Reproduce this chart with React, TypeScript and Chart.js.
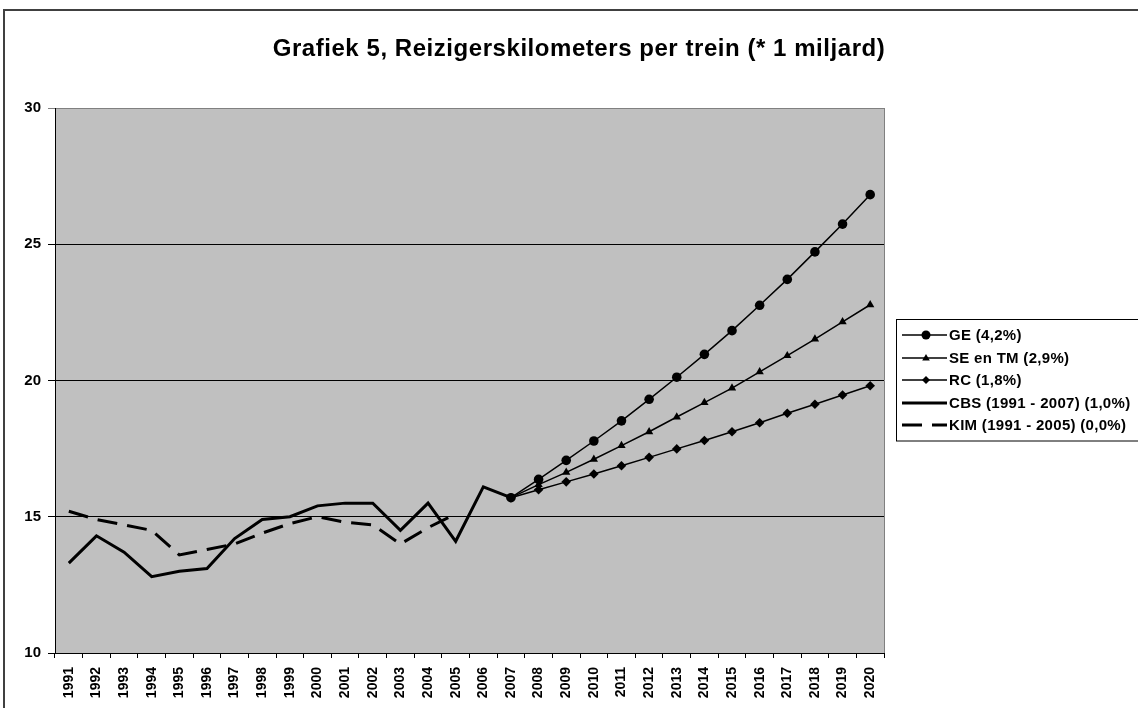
import React, { useEffect, useRef } from 'react';
import { Chart, registerables } from 'chart.js';

Chart.register(...registerables);

const titleText = 'Grafiek 5, Reizigerskilometers per trein (* 1 miljard)';

const years = [
  '1991', '1992', '1993', '1994', '1995', '1996', '1997', '1998', '1999', '2000',
  '2001', '2002', '2003', '2004', '2005', '2006', '2007', '2008', '2009', '2010',
  '2011', '2012', '2013', '2014', '2015', '2016', '2017', '2018', '2019', '2020',
];

const yTicks = [10, 15, 20, 25, 30];

const geLabel = 'GE (4,2%)';
const geValues = [
  null, null, null, null, null, null, null, null, null, null, null, null, null, null, null, null,
  15.7, 16.37, 17.07, 17.78, 18.52, 19.31, 20.12, 20.96, 21.83, 22.76, 23.71, 24.72, 25.74, 26.82,
];

const seLabel = 'SE en TM (2,9%)';
const seValues = [
  null, null, null, null, null, null, null, null, null, null, null, null, null, null, null, null,
  15.7, 16.18, 16.63, 17.11, 17.61, 18.12, 18.66, 19.19, 19.72, 20.32, 20.91, 21.52, 22.15, 22.78,
];

const rcLabel = 'RC (1,8%)';
const rcValues = [
  null, null, null, null, null, null, null, null, null, null, null, null, null, null, null, null,
  15.7, 15.99, 16.28, 16.57, 16.87, 17.18, 17.49, 17.8, 18.12, 18.45, 18.8, 19.13, 19.47, 19.81,
];

const cbsLabel = 'CBS (1991 - 2007) (1,0%)';
const cbsValues = [
  13.3, 14.3, 13.7, 12.8, 13.0, 13.1, 14.2, 14.9, 15.0, 15.4, 15.5, 15.5, 14.5, 15.5, 14.1, 16.1, 15.7,
];

const kimLabel = 'KIM (1991 - 2005) (0,0%)';
const kimValues = [
  15.2, 14.9, 14.7, 14.5, 13.6, 13.8, 14.0, 14.4, 14.75, 15.0, 14.8, 14.7, 14.0, 14.6, 15.1,
];

const FONT = 'Arial, "Liberation Sans", sans-serif';

function drawMarker(ctx: CanvasRenderingContext2D, style: string, x: number, y: number, r: number) {
  ctx.save();
  ctx.fillStyle = '#000';
  ctx.beginPath();
  if (style === 'circle') {
    ctx.arc(x, y, r, 0, Math.PI * 2);
  } else if (style === 'triangle') {
    ctx.moveTo(x, y - r);
    ctx.lineTo(x + r * 0.95, y + r * 0.6);
    ctx.lineTo(x - r * 0.95, y + r * 0.6);
    ctx.closePath();
  } else if (style === 'rectRot') {
    ctx.moveTo(x, y - r);
    ctx.lineTo(x + r, y);
    ctx.lineTo(x, y + r);
    ctx.lineTo(x - r, y);
    ctx.closePath();
  }
  ctx.fill();
  ctx.restore();
}

const framePlugin = {
  id: 'framePlugin',
  beforeDraw(chart: any) {
    const { ctx, chartArea } = chart;
    ctx.save();
    ctx.fillStyle = '#fff';
    ctx.fillRect(0, 0, chart.width, chart.height);
    ctx.strokeStyle = '#404040';
    ctx.lineWidth = 2;
    ctx.strokeRect(4, 10, chart.width + 20, chart.height + 20);
    ctx.fillStyle = '#C0C0C0';
    ctx.fillRect(chartArea.left, chartArea.top, chartArea.right - chartArea.left, chartArea.bottom - chartArea.top);
    ctx.restore();
  },
  afterDatasetsDraw(chart: any) {
    const { ctx, chartArea } = chart;
    ctx.save();
    ctx.strokeStyle = '#808080';
    ctx.lineWidth = 1;
    ctx.beginPath();
    ctx.moveTo(Math.round(chartArea.right) + 0.5, chartArea.top);
    ctx.lineTo(Math.round(chartArea.right) + 0.5, chartArea.bottom);
    ctx.stroke();
    ctx.restore();
  },
  afterDraw(chart: any) {
    const { ctx } = chart;
    // title
    ctx.save();
    ctx.fillStyle = '#000';
    ctx.font = 'bold 24px ' + FONT;
    (ctx as any).letterSpacing = '0.55px';
    ctx.textAlign = 'center';
    ctx.textBaseline = 'alphabetic';
    ctx.fillText(titleText, 579, 56);
    ctx.restore();

    // legend
    const left = 896;
    const top = 319;
    const rowH = 22.5;
    const n = chart.data.datasets.length;
    ctx.save();
    ctx.fillStyle = '#fff';
    ctx.fillRect(left, top, 260, n * rowH + 9);
    ctx.strokeStyle = '#000';
    ctx.lineWidth = 1;
    ctx.strokeRect(left + 0.5, top + 0.5, 260, n * rowH + 9);
    chart.data.datasets.forEach((ds: any, i: number) => {
      const y = Math.round(top + 16 + i * rowH);
      ctx.save();
      ctx.strokeStyle = '#000';
      ctx.lineWidth = ds.borderWidth;
      ctx.setLineDash(ds.borderDash || []);
      ctx.beginPath();
      ctx.moveTo(left + 6, y);
      ctx.lineTo(left + 51, y);
      ctx.stroke();
      ctx.restore();
      if (ds.pointRadius > 0) {
        drawMarker(ctx, ds.pointStyle, left + 30, y, ds.pointStyle === 'circle' ? 4.5 : 4);
      }
      ctx.save();
      ctx.fillStyle = '#000';
      ctx.font = 'bold 15px ' + FONT;
      (ctx as any).letterSpacing = '0.3px';
      ctx.textBaseline = 'middle';
      ctx.textAlign = 'left';
      ctx.fillText(ds.label, left + 53, y + 1);
      ctx.restore();
    });
    ctx.restore();
  },
};

export default function App() {
  const canvasRef = useRef<HTMLCanvasElement | null>(null);

  useEffect(() => {
    const canvas = canvasRef.current;
    if (!canvas) return;
    const chart = new Chart(canvas, {
      type: 'line',
      data: {
        labels: years,
        datasets: [
          {
            label: geLabel,
            data: geValues,
            borderColor: '#000',
            backgroundColor: '#000',
            borderWidth: 1.5,
            pointStyle: 'circle',
            pointRadius: 4.8,
            pointBorderWidth: 0,
            fill: false,
            tension: 0,
          },
          {
            label: seLabel,
            data: seValues,
            borderColor: '#000',
            backgroundColor: '#000',
            borderWidth: 1.5,
            pointStyle: 'triangle',
            pointRadius: 4.8,
            pointBorderWidth: 0,
            fill: false,
            tension: 0,
          },
          {
            label: rcLabel,
            data: rcValues,
            borderColor: '#000',
            backgroundColor: '#000',
            borderWidth: 1.5,
            pointStyle: 'rectRot',
            pointRadius: 4.8,
            pointBorderWidth: 0,
            fill: false,
            tension: 0,
          },
          {
            label: cbsLabel,
            data: cbsValues,
            borderColor: '#000',
            backgroundColor: '#000',
            borderWidth: 3,
            pointRadius: 0,
            fill: false,
            tension: 0,
          },
          {
            label: kimLabel,
            data: kimValues,
            borderColor: '#000',
            backgroundColor: '#000',
            borderWidth: 3,
            borderDash: [20, 10],
            pointRadius: 0,
            fill: false,
            tension: 0,
          },
        ] as any,
      },
      plugins: [framePlugin],
      options: {
        animation: false,
        responsive: false,
        maintainAspectRatio: false,
        layout: { padding: { left: 0, right: 254, top: 108, bottom: 0 } },
        plugins: {
          legend: { display: false },
          tooltip: { enabled: false },
          title: { display: false },
        },
        scales: {
          x: {
            offset: true,
            grid: {
              offset: true,
              drawOnChartArea: false,
              drawTicks: true,
              tickLength: 5,
              color: '#000',
            },
            border: { color: '#000', width: 1 },
            ticks: {
              color: '#000',
              font: { family: FONT, size: 14, weight: 'bold' },
              minRotation: 90,
              maxRotation: 90,
              autoSkip: false,
              padding: 9,
            },
            afterFit(scale: any) {
              scale.height = 55;
            },
          },
          y: {
            min: 10,
            max: 30,
            afterBuildTicks(scale: any) {
              scale.ticks = yTicks.map((v) => ({ value: v }));
            },
            grid: {
              color: (c: any) => (c.tick && c.tick.value === 30 ? '#808080' : '#000'),
              lineWidth: 1,
              tickLength: 7,
            },
            border: { color: '#000', width: 1 },
            ticks: {
              color: '#000',
              font: { family: FONT, size: 15, weight: 'bold' },
              padding: 7,
            },
            afterFit(scale: any) {
              scale.width = 55;
            },
          },
        },
      } as any,
    });
    return () => chart.destroy();
  }, []);

  return (
    <div style={{ position: 'fixed', left: 0, top: 0, width: 1138, height: 708, background: '#fff' }}>
      <canvas ref={canvasRef} width={1138} height={708} style={{ display: 'block', width: 1138, height: 708 }} />
    </div>
  );
}
